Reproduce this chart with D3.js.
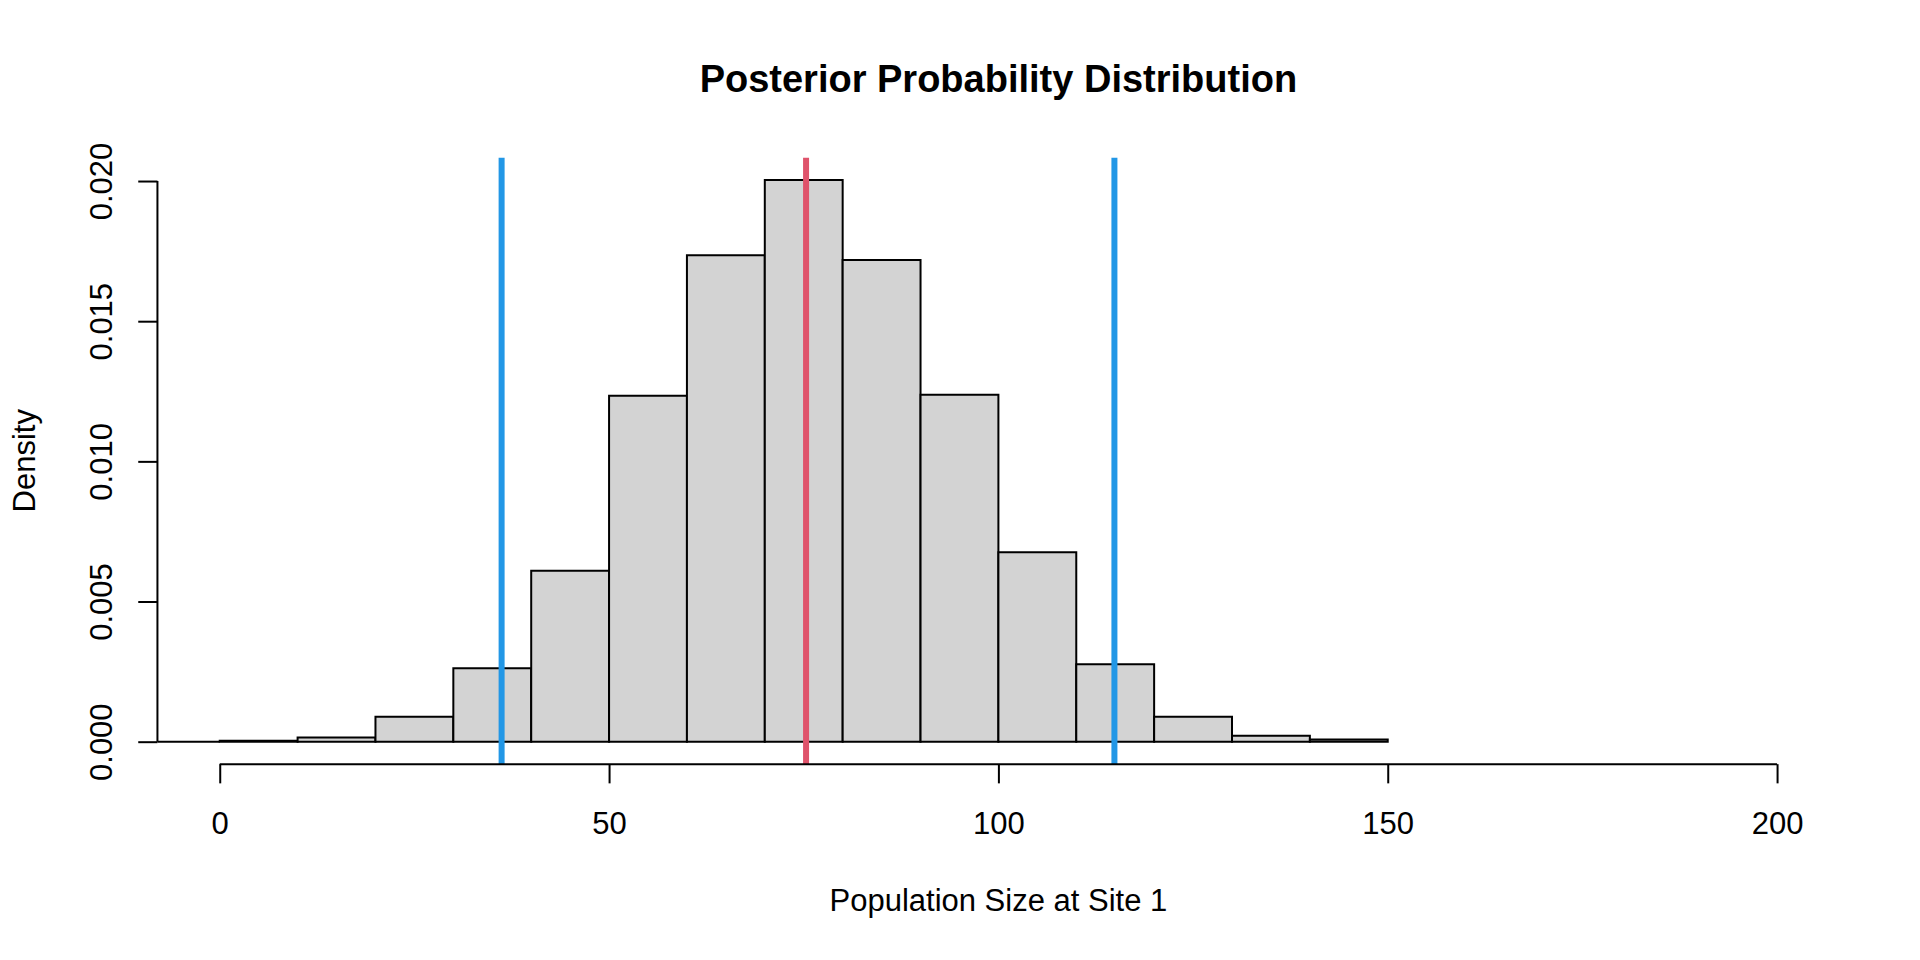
<!DOCTYPE html>
<html>
<head>
<meta charset="utf-8">
<script src="https://cdn.jsdelivr.net/npm/d3@7"></script>
<style>
  body { margin: 0; background: #fff; }
  text { font-family: "Liberation Sans", Arial, sans-serif; fill: #000; }
</style>
</head>
<body>
<script>
// histogram breaks (bin edges) and densities
const breaks = [-10, 0, 10, 20, 30, 40, 50, 60, 70, 80, 90, 100, 110, 120, 130, 140, 150];
const densities = [0, 0.00003, 0.00015, 0.00089, 0.00262, 0.0061, 0.01234, 0.01735, 0.02004,
                   0.01718, 0.01238, 0.00676, 0.00276, 0.00089, 0.00021, 0.00008];
const xTicks = [0, 50, 100, 150, 200];
const yTicks = [0, 0.005, 0.010, 0.015, 0.020];
// credible interval bounds and posterior centre
const intervalLines = [36.2, 114.9];
const centreLine = [75.3];

const W = 1920, H = 960;
const lh = 38.4; // one margin line in px
const plot = { left: 4.1 * lh, right: W - 2.1 * lh, top: 4.1 * lh, bottom: H - 5.1 * lh };

const svg = d3.select('body').append('svg')
    .attr('width', W)
    .attr('height', H);

const xlim = [0, 200];
const xr = xlim[1] - xlim[0];
const x = d3.scaleLinear()
    .domain([xlim[0] - 0.04 * xr, xlim[1] + 0.04 * xr])
    .range([plot.left, plot.right]);

const ymax = d3.max(densities);
const y = d3.scaleLinear()
    .domain([-0.04 * ymax, 1.04 * ymax])
    .range([plot.bottom, plot.top]);

svg.append('defs').append('clipPath')
    .attr('id', 'plotClip')
    .append('rect')
    .attr('x', plot.left).attr('y', plot.top)
    .attr('width', plot.right - plot.left)
    .attr('height', plot.bottom - plot.top);

const bins = densities.map((d, i) => ({ x0: breaks[i], x1: breaks[i + 1], d: d }));

// bars as closed paths so zero-height bins still draw their outline
svg.append('g')
    .attr('clip-path', 'url(#plotClip)')
    .selectAll('path')
    .data(bins)
    .enter()
    .append('path')
    .attr('d', b => `M${x(b.x0)},${y(0)}V${y(b.d)}H${x(b.x1)}V${y(0)}Z`)
    .attr('fill', '#d3d3d3')
    .attr('stroke', '#000')
    .attr('stroke-width', 2);

// vertical reference lines
const vlines = svg.append('g').attr('clip-path', 'url(#plotClip)');
vlines.selectAll('.ci')
    .data(intervalLines)
    .enter()
    .append('line')
    .attr('class', 'ci')
    .attr('x1', d => x(d)).attr('x2', d => x(d))
    .attr('y1', plot.top).attr('y2', plot.bottom)
    .attr('stroke', '#2297E6')
    .attr('stroke-width', 6);
vlines.selectAll('.centre')
    .data(centreLine)
    .enter()
    .append('line')
    .attr('class', 'centre')
    .attr('x1', d => x(d)).attr('x2', d => x(d))
    .attr('y1', plot.top).attr('y2', plot.bottom)
    .attr('stroke', '#DF536B')
    .attr('stroke-width', 6);

const tickLen = 0.5 * lh;
const fs = 31;

// x axis
const gx = svg.append('g')
    .attr('transform', `translate(0,${plot.bottom})`)
    .call(d3.axisBottom(x).tickValues(xTicks).tickSize(tickLen).tickSizeOuter(0).tickFormat(d3.format('d')));
gx.select('.domain').remove();
gx.append('line')
    .attr('x1', x(xTicks[0])).attr('x2', x(xTicks[xTicks.length - 1]))
    .attr('stroke', '#000').attr('stroke-width', 2);
gx.selectAll('.tick line').attr('stroke', '#000').attr('stroke-width', 2);
gx.selectAll('.tick text')
    .attr('y', 70.3)
    .attr('dy', null)
    .attr('font-size', fs)
    .style('font-family', '"Liberation Sans", Arial, sans-serif');

// y axis
const gy = svg.append('g')
    .attr('transform', `translate(${plot.left},0)`)
    .call(d3.axisLeft(y).tickValues(yTicks).tickSize(tickLen).tickSizeOuter(0).tickFormat(d3.format('.3f')));
gy.select('.domain').remove();
gy.append('line')
    .attr('y1', y(yTicks[0])).attr('y2', y(yTicks[yTicks.length - 1]))
    .attr('stroke', '#000').attr('stroke-width', 2);
gy.selectAll('.tick line').attr('stroke', '#000').attr('stroke-width', 2);
gy.selectAll('.tick text')
    .attr('x', 0)
    .attr('y', -45.7)
    .attr('dy', null)
    .attr('transform', 'rotate(-90)')
    .attr('text-anchor', 'middle')
    .attr('font-size', fs)
    .style('font-family', '"Liberation Sans", Arial, sans-serif');

// titles
const cx = (plot.left + plot.right) / 2;
svg.append('text')
    .attr('x', cx).attr('y', 92)
    .attr('text-anchor', 'middle')
    .attr('font-size', 38)
    .attr('font-weight', 'bold')
    .text('Posterior Probability Distribution');

svg.append('text')
    .attr('x', cx).attr('y', 910.7)
    .attr('text-anchor', 'middle')
    .attr('font-size', fs)
    .text('Population Size at Site 1');

svg.append('text')
    .attr('transform', `translate(35,${(plot.top + plot.bottom) / 2}) rotate(-90)`)
    .attr('text-anchor', 'middle')
    .attr('font-size', fs)
    .text('Density');
</script>
</body>
</html>
